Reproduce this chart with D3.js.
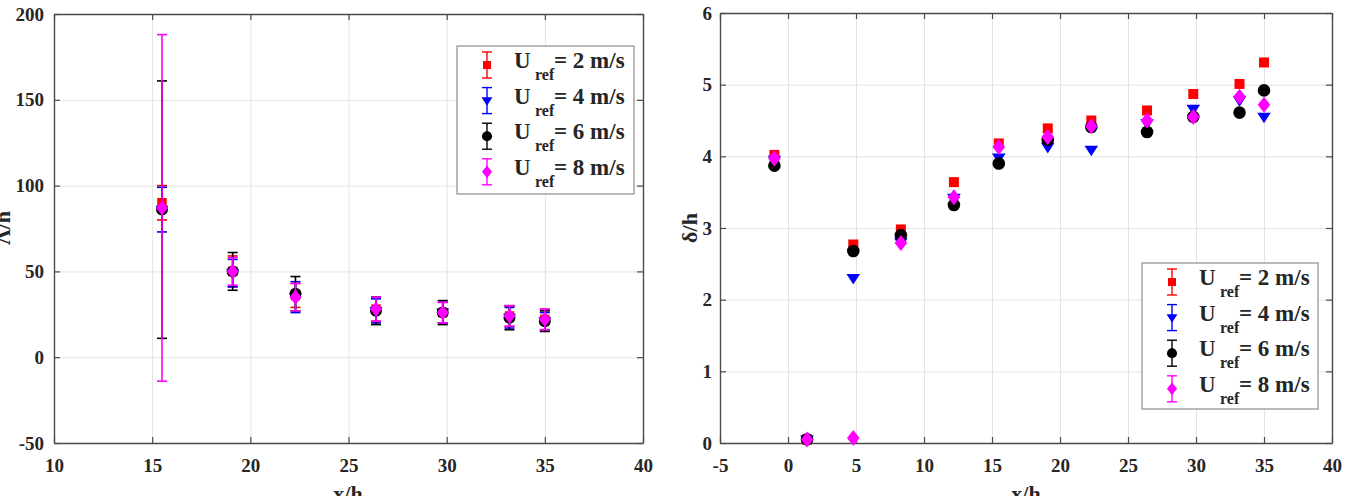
<!DOCTYPE html>
<html><head><meta charset="utf-8">
<script src="https://cdn.jsdelivr.net/npm/d3@7"></script>
<style>
body{margin:0;background:#fff}
svg text{font-family:"Liberation Serif","Times New Roman",serif;font-weight:bold;fill:#262626}
</style>
</head><body><svg id="c" width="1345" height="496"></svg>
<script>
// ---------- data ----------
const speeds = [2, 4, 6, 8];
const colors = ["#ff0000", "#0000ff", "#000000", "#ff00ff"];
const shapes = ["square", "triangle", "circle", "diamond"];

// Left panel: integral length scale (Λ/h) with error bars
const xLeft = [15.5, 19.1, 22.3, 26.4, 29.8, 33.2, 35.0];
const lam2 = [90, 50, 36, 28, 26, 24, 22];
const lam4 = [86, 49, 35, 27, 26, 23, 21];
const lam6 = [86, 50, 37, 27, 26, 23, 21];
const lam8 = [87, 50, 35, 28, 26, 24, 22];
const err2 = [10, 9, 7, 7, 6, 6, 6];
const err4 = [13, 8, 9, 7, 6, 6, 5];
const err6 = [75, 11, 10, 8, 7, 7, 6];
const err8 = [101, 8, 8, 7, 6, 6, 6];

// Right panel: boundary-layer thickness δ/h
const xRight = [-1, 1.4, 4.8, 8.3, 12.2, 15.5, 19.1, 22.3, 26.4, 29.8, 33.2, 35.0];
const d2 = [4.02, 0.05, 2.77, 2.98, 3.64, 4.18, 4.39, 4.50, 4.64, 4.87, 5.01, 5.31];
const d4 = [3.95, 0.05, 2.30, 2.80, 3.42, 3.98, 4.13, 4.09, 4.46, 4.66, 4.78, 4.55];
const d6 = [3.87, 0.05, 2.68, 2.90, 3.32, 3.90, 4.23, 4.41, 4.34, 4.55, 4.61, 4.92];
const d8 = [3.97, 0.05, 0.07, 2.79, 3.43, 4.13, 4.27, 4.42, 4.50, 4.55, 4.83, 4.72];

const xTicksLeft = [10, 15, 20, 25, 30, 35, 40];
const yTicksLeft = [-50, 0, 50, 100, 150, 200];
const xTicksRight = [-5, 0, 5, 10, 15, 20, 25, 30, 35, 40];
const yTicksRight = [0, 1, 2, 3, 4, 5, 6];

const leftY = [lam2, lam4, lam6, lam8];
const leftE = [err2, err4, err6, err8];
const rightY = [d2, d4, d6, d8];

// ---------- drawing ----------
const svg = d3.select("#c");
const fmt = d => String(d);   // plain hyphen for negatives, as in the reference

function markerPath(shape, s) {
  if (shape === "square") { const h = 5 * s; return `M${-h},${-h}H${h}V${h}H${-h}Z`; }
  if (shape === "triangle") { const w = 6.8 * s, t = 4.2 * s, b = 6.4 * s; return `M${-w},${-t}H${w}L0,${b}Z`; }
  if (shape === "circle") { const r = 6.3 * s; return `M${r},0A${r},${r} 0 1,1 ${-r},0A${r},${r} 0 1,1 ${r},0Z`; }
  const w = 6.3 * s, h = 8 * s; return `M0,${-h}L${w},0L0,${h}L${-w},0Z`;
}

function panel(x, y, xt, yt, yPad) {
  const g = svg.append("g");
  const y0 = y.range()[0], y1 = y.range()[1], x0 = x.range()[0], x1 = x.range()[1];
  const clean = a => { a.select(".domain").remove(); a.selectAll("text").remove(); a.selectAll("line").attr("stroke", "#e3e3e3"); };
  // grid
  g.append("g").attr("transform", `translate(0,${y0})`)
    .call(d3.axisBottom(x).tickValues(xt).tickSize(-(y0 - y1)))
    .call(clean);
  g.append("g").attr("transform", `translate(${x0},0)`)
    .call(d3.axisLeft(y).tickValues(yt).tickSize(-(x1 - x0)))
    .call(clean);
  const style = a => {
    a.select(".domain").attr("stroke", "#4a4a4a").attr("stroke-width", 1.4);
    a.selectAll(".tick line").attr("stroke", "#4a4a4a").attr("stroke-width", 1.2);
    a.selectAll("text").attr("font-size", 19).attr("fill", "#262626")
      .attr("font-family", "Liberation Serif, serif").attr("font-weight", "bold");
  };
  const noText = a => a.selectAll("text").remove();
  g.append("g").attr("transform", `translate(0,${y0})`)
    .call(d3.axisBottom(x).tickValues(xt).tickSizeInner(-6).tickSizeOuter(0).tickPadding(15.5).tickFormat(fmt))
    .call(style);
  g.append("g").attr("transform", `translate(0,${y1})`)
    .call(d3.axisTop(x).tickValues(xt).tickSizeInner(-6).tickSizeOuter(0))
    .call(style).call(noText);
  g.append("g").attr("transform", `translate(${x0},0)`)
    .call(d3.axisLeft(y).tickValues(yt).tickSizeInner(-6).tickSizeOuter(0).tickPadding(yPad).tickFormat(fmt))
    .call(style);
  g.append("g").attr("transform", `translate(${x1},0)`)
    .call(d3.axisRight(y).tickValues(yt).tickSizeInner(-6).tickSizeOuter(0))
    .call(style).call(noText);
  return g;
}

function legend(bx, by, bw, bh) {
  const g = svg.append("g");
  g.append("rect").attr("x", bx).attr("y", by).attr("width", bw).attr("height", bh)
    .attr("fill", "#fff").attr("stroke", "#8c8c8c").attr("stroke-width", 1.2);
  speeds.forEach((s, i) => {
    const cy = by + 19 + i * 35.6, mx = bx + 30, tx = bx + 57;
    g.append("line").attr("x1", mx).attr("x2", mx).attr("y1", cy - 13).attr("y2", cy + 13)
      .attr("stroke", colors[i]).attr("stroke-width", 1.4);
    [cy - 13, cy + 13].forEach(yy => g.append("line").attr("x1", mx - 5).attr("x2", mx + 5)
      .attr("y1", yy).attr("y2", yy).attr("stroke", colors[i]).attr("stroke-width", 1.4));
    g.append("path").attr("d", markerPath(shapes[i], 0.8)).attr("transform", `translate(${mx},${cy})`)
      .attr("fill", colors[i]);
    const t = g.append("text").attr("x", tx).attr("y", cy + 3).attr("font-size", 23);
    t.append("tspan").text("U");
    t.append("tspan").attr("x", tx + 21).attr("y", cy + 15).attr("font-size", 16).text("ref");
    t.append("tspan").attr("x", tx + 40).attr("y", cy + 3).text(`= ${s} m/s`);
  });
}

// ----- left panel -----
const xL = d3.scaleLinear().domain([10, 40]).range([54, 643]);
const yL = d3.scaleLinear().domain([-50, 200]).range([443, 14]);
panel(xL, yL, xTicksLeft, yTicksLeft, 10);
leftY.forEach((vals, si) => {
  const g = svg.append("g");
  vals.forEach((v, j) => {
    const cx = xL(xLeft[j]), e = leftE[si][j];
    const top = yL(v + e), bot = yL(v - e);
    g.append("line").attr("x1", cx).attr("x2", cx).attr("y1", top).attr("y2", bot)
      .attr("stroke", colors[si]).attr("stroke-width", 1.6);
    [top, bot].forEach(yy => g.append("line").attr("x1", cx - 5).attr("x2", cx + 5)
      .attr("y1", yy).attr("y2", yy).attr("stroke", colors[si]).attr("stroke-width", 1.6));
    g.append("path").attr("d", markerPath(shapes[si], 0.95))
      .attr("transform", `translate(${cx},${yL(v)})`).attr("fill", colors[si]);
  });
});
legend(457, 46, 177, 148);
svg.append("text").attr("x", 348).attr("y", 501).attr("text-anchor", "middle").attr("font-size", 22).text("x/h");
svg.append("text").attr("transform", "translate(10,228) rotate(-90)").attr("text-anchor", "middle")
  .attr("font-size", 22).text("Λ/h");

// ----- right panel -----
const xR = d3.scaleLinear().domain([-5, 40]).range([720, 1332]);
const yR = d3.scaleLinear().domain([0, 6]).range([443, 13]);
panel(xR, yR, xTicksRight, yTicksRight, 8);
rightY.forEach((vals, si) => {
  const g = svg.append("g");
  vals.forEach((v, j) => {
    g.append("path").attr("d", markerPath(shapes[si], 1))
      .attr("transform", `translate(${xR(xRight[j])},${yR(v)})`).attr("fill", colors[si]);
  });
});
legend(1142, 263, 176, 146);
svg.append("text").attr("x", 1026).attr("y", 501).attr("text-anchor", "middle").attr("font-size", 22).text("x/h");
svg.append("text").attr("transform", "translate(697,228) rotate(-90)").attr("text-anchor", "middle")
  .attr("font-size", 22).text("δ/h");
</script>
</body></html>
